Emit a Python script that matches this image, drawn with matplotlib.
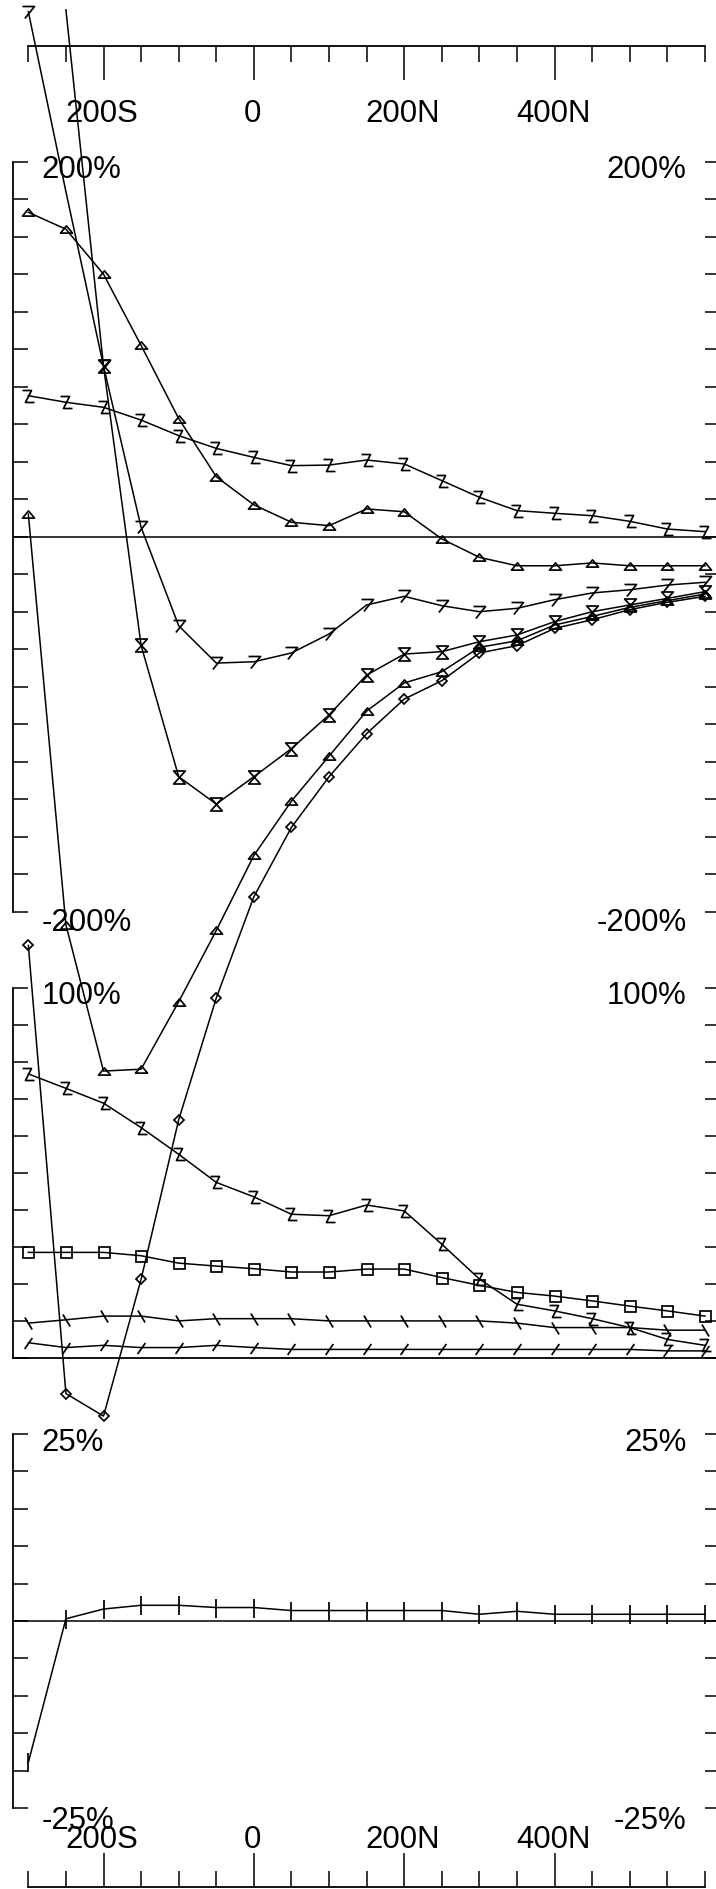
import numpy as np
import matplotlib
matplotlib.use("Agg")
import matplotlib.pyplot as plt
from matplotlib.path import Path
from matplotlib.transforms import blended_transform_factory

plt.rcParams['font.family'] = ['Liberation Sans', 'DejaVu Sans']

W, H = 716, 1890
FS = 22.4
LW = 1.1

# distance along track, S negative / N positive
dist = [-300, -250, -200, -150, -100, -50, 0, 50, 100, 150, 200,
        250, 300, 350, 400, 450, 500, 550, 600]

# upper panel (percent)
tri_a = [173, 164, 140, 102, 63, 32, 17, 7.7, 5.9, 14.8, 13.3, -1.2,
         -11, -15.5, -15.5, -14, -15.5, -15.5, -15.5]
zed_a = [75.2, 71.7, 69, 62.2, 53.9, 47.1, 42.3, 37.9, 38.2, 40.9, 38.8,
         29.9, 21, 13.9, 12.5, 11.2, 8.2, 4.1, 2.7]
seven = [280, 184, 91, 5, -47.5, -67.4, -66.7, -62, -51.9, -36.4, -31.8,
         -36.8, -40, -38.2, -33.6, -30, -28.3, -25.8, -24.3]
hourglass = [np.nan, 281, 91, -58, -128, -142.6, -128, -113, -95, -73.8,
             -62.6, -61.3, -56, -52.4, -45.3, -40, -36.4, -32.9, -29.3]
tri_b = [12, -207, -285, -284, -248, -210, -170, -141, -117, -93, -78,
         -72, -59, -55.5, -47.1, -42.5, -37.7, -34.1, -30.6]
diamond = [-218, -457, -469, -396, -311, -246, -192, -155, -128, -105,
           -86.6, -76.8, -62, -58.1, -48.9, -44.3, -38.9, -35, -31.8]

# middle panel
zed_b = [76.8, 72.9, 68.9, 62.3, 55.1, 47.5, 43.6, 38.9, 38.5, 41.4, 39.8,
         30.8, 21.4, 14.6, 12.8, 10.7, 8.3, 5.1, 3.5]
square = [28.6, 28.6, 28.6, 27.7, 25.7, 24.9, 24.2, 23.3, 23.3, 24.1, 24.1,
          21.8, 19.7, 17.8, 16.8, 15.5, 14.1, 12.8, 11.4]
back = [9.5, 10.4, 11.4, 11.4, 10.1, 10.7, 10.7, 10.7, 10.1, 10.1, 10.1,
        10.1, 10.1, 9.5, 8.3, 8.3, 8.3, 7.6, 7.6]
fwd = [4.2, 2.9, 3.5, 2.9, 2.9, 3.5, 2.9, 2.4, 2.4, 2.4, 2.4, 2.4, 2.4,
       2.4, 2.4, 2.4, 2.4, 2.0, 2.0]

# lower panel
plus = [-18.9, 0.3, 1.6, 2.1, 2.1, 1.8, 1.8, 1.4, 1.4, 1.4, 1.4, 1.4, 0.9,
        1.3, 0.9, 0.9, 0.9, 0.9, 0.9]

xticks_major = [-200, 0, 200, 400]
xticks_minor = [-300, -250, -150, -100, -50, 50, 100, 150, 250, 300, 350,
                450, 500, 550, 600]
xlabels = ['200S', '0', '200N', '400N']


def rect(x0, y0, x1, y1):
    return [x0 / W, 1 - y1 / H, (x1 - x0) / W, (y1 - y0) / H]


def pt(px):
    return px * 0.72


def open_marker(verts):
    return Path(verts, [Path.MOVETO] + [Path.LINETO] * (len(verts) - 1))


m_tri = Path([(-1, -0.6), (1, -0.6), (0, 0.6), (-1, -0.6)], closed=True)
m_hour = Path([(-0.9, 1), (0.9, 1), (-0.9, -1), (0.9, -1), (-0.9, 1)],
              closed=True)
m_seven = open_marker([(-1, 1), (1, 1), (-0.6, -1)])
m_zed = open_marker([(-1, 1), (0.5, 1), (-0.5, -1), (1, -1)])
m_back = open_marker([(-0.6, 1), (0.6, -1)])
m_fwd = open_marker([(-0.7, -1), (0.7, 1)])

fig = plt.figure(figsize=(W / 100, H / 100), dpi=100)

XL = (-320, 620)


def panel(y0, y1, lo, hi, step):
    ax = fig.add_axes(rect(13.3, y0, 720, y1))
    ax.patch.set_visible(False)
    ax.set_xlim(*XL)
    ax.set_ylim(lo, hi)
    for s in ['top', 'right', 'bottom']:
        ax.spines[s].set_visible(False)
    ax.spines['left'].set_linewidth(1.3)
    ax.set_xticks([])
    ax.set_yticks(np.arange(lo, hi + step / 2, step))
    ax.tick_params(axis='y', direction='in', length=pt(15), width=1.1,
                   left=True, right=True, labelleft=False, labelright=False)
    return ax


def line(ax, y, marker, ms, every=None, **kw):
    ax.plot(dist, y, color='black', lw=LW, marker=marker, ms=ms,
            mfc='none', mec='black', mew=1.25, clip_on=False,
            markevery=every, **kw)


ax1 = panel(162.7, 912.7, -200, 200, 20)
ax1.axhline(0, color='black', lw=LW)
line(ax1, tri_a, m_tri, pt(12))
line(ax1, zed_a, m_zed, pt(12))
line(ax1, seven, m_seven, pt(12), every=[0] + list(range(2, 19)))
line(ax1, hourglass, m_hour, pt(13), every=list(range(2, 19)))
line(ax1, tri_b, m_tri, pt(12))
line(ax1, diamond, 'D', pt(6.4))

ax2 = panel(989, 1359.3, 0, 100, 10)
ax2.spines['bottom'].set_visible(True)
ax2.spines['bottom'].set_linewidth(1.3)
line(ax2, zed_b, m_zed, pt(12))
line(ax2, square, 's', pt(11))
line(ax2, back, m_back, pt(12))
line(ax2, fwd, m_fwd, pt(11))

ax3 = panel(1435, 1809, -25, 25, 5)
ax3.axhline(0, color='black', lw=LW)
line(ax3, plus, '|', pt(19))

# y labels inside the frame
for y_base, txt in [(177.5, '200%'), (931, '-200%'), (1004, '100%'),
                    (1451.5, '25%'), (1829, '-25%')]:
    fig.text(41.7 / W, 1 - y_base / H, txt, fontsize=FS, ha='left',
             va='baseline')
    fig.text(686.7 / W, 1 - y_base / H, txt, fontsize=FS, ha='right',
             va='baseline')


def xaxis(y_line, top):
    if top:
        ax = fig.add_axes(rect(13.3, y_line - 5, 720, y_line))
        sp = 'bottom'
    else:
        ax = fig.add_axes(rect(13.3, y_line, 720, y_line + 5))
        sp = 'top'
    ax.patch.set_visible(False)
    ax.set_xlim(*XL)
    ax.set_yticks([])
    for s in ['top', 'right', 'bottom', 'left']:
        ax.spines[s].set_visible(s == sp)
    ax.spines[sp].set_bounds(-300, 600)
    ax.spines[sp].set_linewidth(1.3)
    ax.set_xticks(xticks_major)
    ax.set_xticks(xticks_minor, minor=True)
    ax.set_xticklabels([])
    ax.tick_params(axis='x', which='major', direction='out', length=pt(34),
                   width=1.1)
    ax.tick_params(axis='x', which='minor', direction='out', length=pt(16),
                   width=1.1)
    if not top:
        ax.xaxis.tick_top()
    tr = blended_transform_factory(ax.transData, fig.transFigure)
    yb = 121.7 if top else 1848
    for xv, lab in zip(xticks_major, xlabels):
        ax.text(xv - 2, 1 - yb / H, lab, transform=tr, fontsize=FS,
                ha='center', va='baseline')
    return ax


xaxis(46.7, True)
xaxis(1888, False)

fig.savefig('out.png', dpi=100)
